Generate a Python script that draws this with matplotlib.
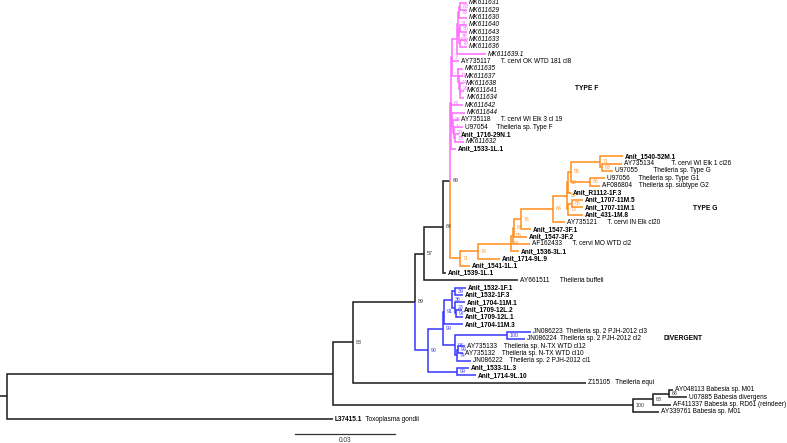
import matplotlib
matplotlib.use("Agg")
import matplotlib.pyplot as plt
from matplotlib.collections import LineCollection

plt.rcParams['font.family'] = ['Liberation Sans', 'DejaVu Sans']

# ---------------- data: internal nodes ----------------
node_names = ["root", "A", "B", "C", "D", "E", "F",
              "P", "G", "Q100", "N44", "N78", "N83", "N31", "N55", "N79p",
              "B2", "B3", "B4", "B5", "H1", "H2", "H3", "H4",
              "O", "N79o", "K", "J", "Q2", "R76", "S", "U", "V", "Z", "X", "Y", "W", "T", "T2",
              "BR", "Z1", "N91", "L1", "P1", "L2", "L3", "NJ", "JNp", "Yb", "AYp", "N99b",
              "BB", "N88", "N68"]
node_parents = [None, "root", "A", "B", "C", "D", "E",
                "F", "P", "G", "Q100", "N44", "N78", "N44", "N31", "N31",
                "G", "B2", "B3", "B4", "P", "H1", "H2", "H3",
                "F", "O", "N79o", "K", "J", "Q2", "R76", "S", "U", "V", "Z", "X", "Z", "U", "T",
                "C", "BR", "Z1", "N91", "L1", "L1", "L2", "Z1", "NJ", "NJ", "Yb", "BR",
                "A", "BB", "N88"]
node_blens = [0.0021, 0.0978, 0.0060, 0.0186, 0.0027, 0.0057, 0.0021,
              0.0003, 0.0003, 0.0015, 0.0003, 0.0003, 0.0003, 0.0003, 0.0003, 0.0003,
              0.0018, 0.0003, 0.0002, 0.0002, 0.0003, 0.0003, 0.0003, 0.0003,
              0.0030, 0.0054, 0.0099, 0.0006, 0.0003, 0.0021, 0.0096, 0.0042, 0.0003, 0.0009,
              0.0087, 0.0006, 0.0057, 0.0003, 0.0012,
              0.0039, 0.0045, 0.0003, 0.0024, 0.0009, 0.0009, 0.0003, 0.0036, 0.0156, 0.0006,
              0.0003, 0.0087,
              0.0900, 0.0060, 0.0048]
node_support = ["", "", "83", "89", "57", "64", "69",
                "61", "3", "100", "31", "78", "83", "44", "55", "79",
                "11", "14", "29", "", "26", "1", "30", "15",
                "71", "79", "64", "55", "64", "76", "68", "79", "52", "55", "71", "63", "66", "73", "65",
                "90", "99", "91", "36", "39", "28", "97", "93", "100", "74", "99", "99",
                "100", "88", "68"]
node_clade = (["black"] * 7 + ["pink"] * 17 + ["orange"] * 15 + ["blue"] * 12 + ["black"] * 3)

# ---------------- data: leaves (top to bottom) ----------------
leaf_labels = ["MK611631", "MK611629", "MK611630", "MK611640", "MK611643", "MK611633",
               "MK611636", "MK611639.1", "AY735117      T. cervi OK WTD 181 cl8", "MK611635",
               "MK611637", "MK611638", "MK611641", "MK611634", "MK611642", "MK611644",
               "AY735118      T. cervi WI Elk 3 cl 19", "U97054     Theileria sp. Type F",
               "Anit_1716-29N.1", "MK611632", "Anit_1533-1L.1",
               "Anit_1540-52M.1", "AY735134          T. cervi WI Elk 1 cl26",
               "U97055         Theileria sp. Type G", "U97056     Theileria sp. Type G1",
               "AF086804    Theileria sp. subtype G2", "Anit_R1112-1F.3", "Anit_1707-11M.5",
               "Anit_1707-11M.1", "Anit_431-1M.8", "AY735121      T. cervi IN Elk cl20",
               "Anit_1547-3F.1", "Anit_1547-3F.2", "AF162433      T. cervi MO WTD cl2",
               "Anit_1536-3L.1", "Anit_1714-9L.9", "Anit_1541-1L.1", "Anit_1539-1L.1",
               "AY661511      Theileria buffeli",
               "Anit_1532-1F.1", "Anit_1532-1F.3", "Anit_1704-11M.1", "Anit_1709-12L.2",
               "Anit_1709-12L.1", "Anit_1704-11M.3", "JN086223  Theileria sp. 2 PJH-2012 cl3",
               "JN086224  Theileria sp. 2 PJH-2012 cl2", "AY735133    Theileria sp. N-TX WTD cl12",
               "AY735132    Theileria sp. N-TX WTD cl10", "JN086222    Theileria sp. 2 PJH-2012 cl1",
               "Anit_1533-1L.3", "Anit_1714-9L.10", "Z15105   Theileria equi",
               "AY048113 Babesia sp. M01", "U07885 Babesia divergens",
               "AF411337 Babesia sp. RD61 (reindeer)", "AY339761 Babesia sp. M01", "L37415.1"]
leaf_suffix = [""] * 57 + ["  Toxoplasma gondii"]
leaf_parents = ["N83", "N83", "N78", "N55", "N55", "N79p", "N79p", "Q100", "G", "B2",
                "B3", "B4", "B5", "B5", "P", "H1", "H2", "H3", "H4", "H4", "P",
                "X", "Y", "Y", "W", "W", "V", "T2", "T2", "T", "S", "R76", "Q2", "J", "K",
                "N79o", "O", "E", "D",
                "P1", "P1", "L2", "L3", "L3", "N91", "JNp", "JNp", "AYp", "AYp", "Yb",
                "N99b", "N99b", "B", "N68", "N68", "N88", "BB", "root"]
leaf_blens = [0.0021, 0.0021, 0.0024, 0.0021, 0.0021, 0.0021, 0.0021, 0.0087, 0.0021, 0.0015,
              0.0012, 0.0011, 0.0012, 0.0012, 0.0036, 0.0039, 0.0018, 0.0027, 0.0012, 0.0027,
              0.0015,
              0.0069, 0.0060, 0.0033, 0.0045, 0.0030, 0.0009, 0.0033, 0.0033, 0.0045, 0.0036,
              0.0030, 0.0039, 0.0051, 0.0024, 0.0066, 0.0030, 0.0009, 0.0282,
              0.0033, 0.0024, 0.0030, 0.0018, 0.0021, 0.0057, 0.0072, 0.0054, 0.0021, 0.0015,
              0.0042, 0.0036, 0.0057, 0.0699, 0.0012, 0.0054, 0.0054, 0.0078, 0.0978]
leaf_style = (["i"] * 8 + ["n"] + ["i"] * 7 + ["n", "n", "b", "i", "b",
              "b", "n", "n", "n", "n", "b", "b", "b", "b", "n", "b", "b", "n", "b", "b", "b",
              "b", "n", "b", "b", "b", "b", "b", "b", "n", "n", "n", "n", "n", "b", "b",
              "n", "n", "n", "n", "n", "b"])

clade_labels = ["TYPE F", "TYPE G", "DIVERGENT"]
scale_length = 0.03

# ---------------- layout ----------------
colors = {"black": "#1a1a1a", "pink": "#ff6bff", "orange": "#ff8c1a", "blue": "#3535ff"}
label_colors = {"black": "#333333", "pink": "#ff6bff", "orange": "#ff9a33", "blue": "#4040ff"}

nidx = {n: i for i, n in enumerate(node_names)}
children = {n: [] for n in node_names}
for i, p in enumerate(node_parents):
    if p is not None:
        children[p].append(("n", i))
for i, p in enumerate(leaf_parents):
    children[p].append(("l", i))

ndepth = {}


def depth_of(name):
    if name in ndepth:
        return ndepth[name]
    i = nidx[name]
    p = node_parents[i]
    d = node_blens[i] + (depth_of(p) if p is not None else 0.0)
    ndepth[name] = d
    return d


for n in node_names:
    depth_of(n)
leaf_x = [ndepth[p] + b for p, b in zip(leaf_parents, leaf_blens)]
leaf_y = list(range(len(leaf_labels)))

ny = {}


def y_of(name):
    if name in ny:
        return ny[name]
    ys = []
    for kind, i in children[name]:
        ys.append(leaf_y[i] if kind == "l" else y_of(node_names[i]))
    v = (min(ys) + max(ys)) / 2.0
    ny[name] = v
    return v


for n in node_names:
    y_of(n)

W, H = 787, 443
fig = plt.figure(figsize=(W / 100, H / 100), dpi=100)
ax = fig.add_axes([0, 0, 1, 1])
px = 0.0003
ax.set_xlim(0, W * px)
ax.set_ylim((H - 3) / 7.3, -3 / 7.3)
ax.axis("off")

segs, cols = [], []
# root stub
segs.append([(0, ny["root"]), (ndepth["root"], ny["root"])])
cols.append(colors["black"])
for i, n in enumerate(node_names):
    p = node_parents[i]
    if p is None:
        continue
    segs.append([(ndepth[p], ny[p]), (ndepth[p], ny[n]), (ndepth[n], ny[n])])
    cols.append(colors[node_clade[i]])
for i, p in enumerate(leaf_parents):
    segs.append([(ndepth[p], ny[p]), (ndepth[p], leaf_y[i]), (leaf_x[i], leaf_y[i])])
    cols.append(colors[node_clade[nidx[p]]])
lc = LineCollection(segs, colors=cols, linewidths=1.1, joinstyle="miter", capstyle="butt")
ax.add_collection(lc)

FS = 4.7
for i, lab in enumerate(leaf_labels):
    st = leaf_style[i]
    t = ax.annotate(lab, (leaf_x[i], leaf_y[i]), xytext=(2.0 * 0.72, 0),
                    textcoords="offset points", va="center", ha="left", fontsize=FS,
                    fontweight="bold" if st == "b" else "normal",
                    fontstyle="italic" if st == "i" else "normal", color="black")
    if leaf_suffix[i]:
        ax.annotate(leaf_suffix[i], xy=(1, 0.5), xycoords=t, va="center", ha="left",
                    fontsize=FS, color="black")

for i, n in enumerate(node_names):
    if node_support[i]:
        ax.annotate(node_support[i], (ndepth[n], ny[n]), xytext=(3 * 0.72, 0),
                    textcoords="offset points", va="center", ha="left", fontsize=3.8,
                    color=label_colors[node_clade[i]])

# clade labels
for lab, (xp, yp) in zip(clade_labels, [(575, 89), (693, 209), (664, 339)]):
    fig.text(xp / W, 1 - yp / H, lab, fontsize=4.8, fontweight="bold", va="center", ha="left")

# scale bar
sb_x0 = 295 * px
sb_y = (434 - 3) / 7.3
ax.plot([sb_x0, sb_x0 + scale_length], [sb_y, sb_y], color="#333333", lw=0.9)
ax.text(sb_x0 + scale_length / 2, (441 - 3) / 7.3, f"{scale_length:.2f}", ha="center",
        va="center", fontsize=4.7, color="#333333")

fig.savefig("out.png", dpi=100)
